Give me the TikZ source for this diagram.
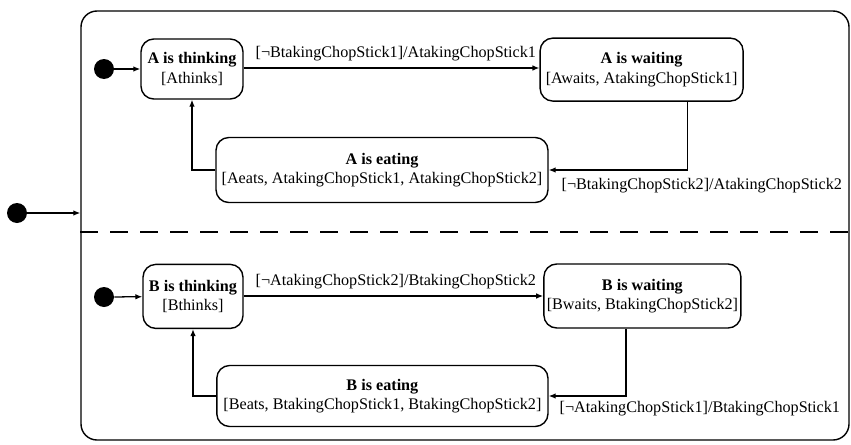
\documentclass[tikz,border=0pt]{standalone}
\usepackage{fontspec}
\setmainfont{Liberation Serif}
\usetikzlibrary{positioning,arrows.meta,calc}

\tikzset{
  state/.style={draw,line width=1pt,rounded corners=0.32cm,align=center,
                inner sep=1pt,font=\fontsize{11.5}{14}\selectfont},
  superstate/.style={draw,line width=1pt,rounded corners=0.4cm,inner sep=0pt},
  initial/.style={circle,fill=black,minimum size=0.5cm,inner sep=0pt},
  trans/.style={line width=0.9pt,-{Latex[length=5pt,width=4pt]}},
  guard/.style={font=\fontsize{11.5}{14}\selectfont,inner sep=1pt,anchor=west}
}

\begin{document}
\begin{tikzpicture}
    \useasboundingbox (0,0) rectangle (21.275,11.1);
    % enclosing state with its two regions
    \node[superstate,minimum width=19.2cm,minimum height=10.725cm] (sys) at (11.625,5.4625) {};
    \node[initial] (ini) at (0.425,5.775) {};
    \draw[trans] (ini) -- (ini -| sys.west);
    \draw[line width=0.9pt,dash pattern=on 0.45cm off 0.3cm] (sys.west |- 0,5.3) -- (sys.east |- 0,5.3);

    % philosopher A
    \node[initial] (ainit) at (2.6,9.375) {};
    \node[state,minimum width=2.55cm,minimum height=1.5cm] (athink) at (4.8,9.375)
      {\textbf{A is thinking}\\{}[Athinks]};
    \node[state,minimum width=5.075cm,minimum height=1.575cm] (await) at (16.04,9.36)
      {\textbf{A is waiting}\\{}[Awaits, AtakingChopStick1]};
    \node[state,minimum width=8.3cm,minimum height=1.625cm] (aeat) at (9.55,6.85)
      {\textbf{A is eating}\\{}[Aeats, AtakingChopStick1, AtakingChopStick2]};
    \draw[trans] (ainit) -- (athink);
    \draw[trans] (athink.east |- 0,9.4) -- (await.west |- 0,9.4);
    \draw[trans] ([xshift=1.14cm]await.south) |- (aeat.east);
    \draw[trans] (aeat.west) -| (athink.south);
    \node[guard] (aguard1) at (6.35,9.75) {[¬BtakingChopStick1]/AtakingChopStick1};
    \node[guard] (aguard2) at (14.0,6.45) {[¬BtakingChopStick2]/AtakingChopStick2};

    % philosopher B
    \node[initial] (binit) at (2.6,3.675) {};
    \node[state,minimum width=2.5cm,minimum height=1.6cm] (bthink) at (4.825,3.69)
      {\textbf{B is thinking}\\{}[Bthinks]};
    \node[state,minimum width=4.925cm,minimum height=1.6cm] (bwait) at (16.06,3.7)
      {\textbf{B is waiting}\\{}[Bwaits, BtakingChopStick2]};
    \node[state,minimum width=8.28cm,minimum height=1.525cm] (beat) at (9.56,1.2)
      {\textbf{B is eating}\\{}[Beats, BtakingChopStick1, BtakingChopStick2]};
    \draw[trans] (binit) -- (bthink);
    \draw[trans] (bthink.east |- 0,3.7) -- (bwait.west |- 0,3.7);
    \draw[trans] ([xshift=-0.41cm]bwait.south) |- (beat.east);
    \draw[trans] (beat.west) -| (bthink.south);
    \node[guard] (bguard1) at (6.35,4.05) {[¬AtakingChopStick2]/BtakingChopStick2};
    \node[guard] (bguard2) at (13.95,0.88) {[¬AtakingChopStick1]/BtakingChopStick1};
\end{tikzpicture}
\end{document}
